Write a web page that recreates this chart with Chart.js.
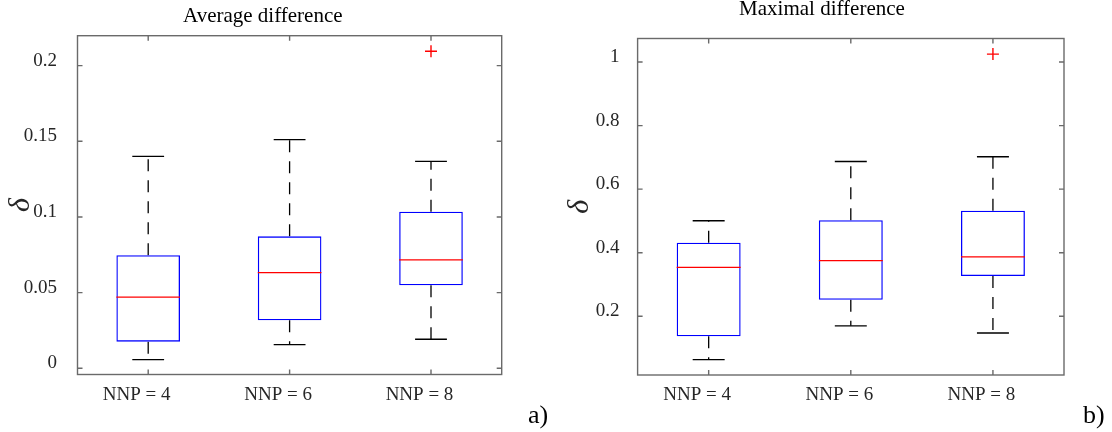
<!DOCTYPE html>
<html><head><meta charset="utf-8">
<script src="https://cdn.jsdelivr.net/npm/chart.js@4/dist/chart.umd.min.js"></script>
<style>
html,body{margin:0;padding:0;background:#fff;overflow:hidden;width:1112px;height:432px;}
#wrap{position:relative;width:1112px;height:432px;overflow:hidden;background:#fff;}
canvas{position:absolute;top:0;}
#c1{left:0;}
#c2{left:556px;}
.txt{position:absolute;font-family:'Liberation Serif','Times New Roman',serif;color:#000;white-space:nowrap;}
.ttl{font-size:21px;line-height:21px;width:240px;text-align:center;}
.lab{font-size:26px;line-height:26px;}
</style></head><body>
<div id="wrap">
<canvas id="c1" width="556" height="432"></canvas>
<canvas id="c2" width="556" height="432"></canvas>
<div class="txt ttl" style="left:142.8px;top:5px">Average difference</div>
<div class="txt ttl" style="left:702px;top:-2px">Maximal difference</div>
<div class="txt lab" style="left:528px;top:402px">a)</div>
<div class="txt lab" style="left:1083px;top:402px">b)</div>
</div>
<script>
const categories = ['NNP = 4', 'NNP = 6', 'NNP = 8'];

// (a) Average difference
const avgLowerWhisker = [0.0057, 0.0156, 0.0192];
const avgQ1           = [0.0176, 0.0317, 0.0548];
const avgMedian       = [0.0471, 0.0632, 0.0716];
const avgQ3           = [0.0747, 0.0872, 0.1035];
const avgUpperWhisker = [0.1401, 0.1511, 0.1368];
const avgOutliers     = [null, null, 0.2095];
const avgTickValues   = [0, 0.05, 0.1, 0.15, 0.2];
const avgTickLabels   = ['0', '0.05', '0.1', '0.15', '0.2'];

// (b) Maximal difference
const maxLowerWhisker = [0.0635, 0.170, 0.1475];
const maxQ1           = [0.137, 0.252, 0.327];
const maxMedian       = [0.354, 0.375, 0.387];
const maxQ3           = [0.4315, 0.502, 0.532];
const maxUpperWhisker = [0.5006, 0.687, 0.702];
const maxOutliers     = [null, null, 1.025];
const maxTickValues   = [0.2, 0.4, 0.6, 0.8, 1];
const maxTickLabels   = ['0.2', '0.4', '0.6', '0.8', '1'];

const FONT = "'Liberation Serif', 'Times New Roman', serif";
const TEXT = '#262626';

function boxPlugin(lo, q1, med, q3, hi, tickValues) {
  return {
    id: 'boxExtras',
    beforeDatasetsDraw(chart) {
      const ctx = chart.ctx, y = chart.scales.y;
      const meta = chart.getDatasetMeta(0);
      ctx.save();
      meta.data.forEach((bar, i) => {
        const x = bar.x, w = bar.width;
        ctx.strokeStyle = '#000';
        ctx.lineWidth = 1.3;
        ctx.setLineDash([12, 9]);
        ctx.beginPath();
        ctx.moveTo(x, y.getPixelForValue(q3[i])); ctx.lineTo(x, y.getPixelForValue(hi[i]));
        ctx.moveTo(x, y.getPixelForValue(q1[i])); ctx.lineTo(x, y.getPixelForValue(lo[i]));
        ctx.stroke();
        ctx.setLineDash([]);
        ctx.beginPath();
        [hi[i], lo[i]].forEach(v => {
          const py = y.getPixelForValue(v);
          ctx.moveTo(x - w / 4, py); ctx.lineTo(x + w / 4, py);
        });
        ctx.stroke();
      });
      ctx.restore();
    },
    afterDatasetsDraw(chart) {
      const ctx = chart.ctx, y = chart.scales.y;
      const meta = chart.getDatasetMeta(0);
      ctx.save();
      ctx.strokeStyle = '#ff0000';
      ctx.lineWidth = 1.2;
      meta.data.forEach((bar, i) => {
        const py = y.getPixelForValue(med[i]);
        ctx.beginPath();
        ctx.moveTo(bar.x - bar.width / 2, py); ctx.lineTo(bar.x + bar.width / 2, py);
        ctx.stroke();
      });
      ctx.restore();
    },
    afterDraw(chart) {
      const ctx = chart.ctx, a = chart.chartArea;
      const xs = chart.scales.x, ys = chart.scales.y;
      ctx.save();
      ctx.strokeStyle = '#6a6a6a';
      ctx.lineWidth = 1.4;
      ctx.strokeRect(a.left, a.top, a.right - a.left, a.bottom - a.top);
      ctx.beginPath();
      tickValues.forEach(v => {
        const py = ys.getPixelForValue(v);
        ctx.moveTo(a.left, py); ctx.lineTo(a.left + 5, py);
        ctx.moveTo(a.right, py); ctx.lineTo(a.right - 5, py);
      });
      categories.forEach((c, i) => {
        const px = xs.getPixelForValue(i);
        ctx.moveTo(px, a.bottom); ctx.lineTo(px, a.bottom - 5);
        ctx.moveTo(px, a.top); ctx.lineTo(px, a.top + 5);
      });
      ctx.stroke();
      ctx.restore();
    }
  };
}

function makeChart(id, s, yMin, yMax, tickValues, tickLabels, L) {
  return new Chart(document.getElementById(id), {
    type: 'bar',
    data: {
      labels: categories,
      datasets: [
        {
          type: 'bar',
          data: categories.map((c, i) => [s.q1[i], s.q3[i]]),
          backgroundColor: 'rgba(0,0,0,0)',
          borderColor: '#0000ff',
          borderWidth: 1.3,
          borderSkipped: false,
          barPercentage: 0.45,
          categoryPercentage: 1,
          grouped: false
        },
        {
          type: 'line',
          data: s.out,
          showLine: false,
          pointStyle: 'cross',
          pointRadius: 6,
          pointBorderColor: '#ff0000',
          pointBorderWidth: 1.4,
          borderColor: '#ff0000'
        }
      ]
    },
    options: {
      responsive: false,
      animation: false,
      events: [],
      layout: { padding: { left: 0, right: L.padRight, top: L.padTop, bottom: 0 } },
      plugins: { legend: { display: false }, tooltip: { enabled: false }, title: { display: false } },
      scales: {
        x: {
          type: 'category',
          offset: true,
          grid: { display: false, drawTicks: false },
          border: { display: false },
          ticks: { color: TEXT, font: { family: FONT, size: 19 }, padding: 9, labelOffset: -11.5, maxRotation: 0, autoSkip: false },
          afterFit: sc => { sc.height = L.xHeight; }
        },
        y: {
          type: 'linear',
          min: yMin,
          max: yMax,
          grid: { display: false, drawTicks: false },
          border: { display: false },
          afterBuildTicks: sc => { sc.ticks = tickValues.map(v => ({ value: v })); },
          ticks: {
            color: TEXT,
            font: { family: FONT, size: 19 },
            padding: L.tickPad,
            labelOffset: -5,
            callback: v => tickLabels[tickValues.indexOf(v)]
          },
          title: {
            display: true,
            text: 'δ',
            color: TEXT,
            font: { family: FONT, size: 30, style: 'italic' },
            padding: { top: L.deltaPad, bottom: 0 }
          },
          afterFit: sc => { sc.width = L.yWidth; }
        }
      }
    },
    plugins: [boxPlugin(s.lo, s.q1, s.med, s.q3, s.hi, tickValues)]
  });
}

makeChart('c1',
  { lo: avgLowerWhisker, q1: avgQ1, med: avgMedian, q3: avgQ3, hi: avgUpperWhisker, out: avgOutliers },
  -0.0041, 0.2198, avgTickValues, avgTickLabels,
  { padRight: 54.3, padTop: 35.7, xHeight: 57.5, yWidth: 77.5, tickPad: 20.5, deltaPad: 3 });

makeChart('c2',
  { lo: maxLowerWhisker, q1: maxQ1, med: maxMedian, q3: maxQ3, hi: maxUpperWhisker, out: maxOutliers },
  0.0154, 1.074, maxTickValues, maxTickLabels,
  { padRight: 48, padTop: 38.5, xHeight: 57, yWidth: 81.6, tickPad: 18, deltaPad: 6 });
</script>
</body></html>
